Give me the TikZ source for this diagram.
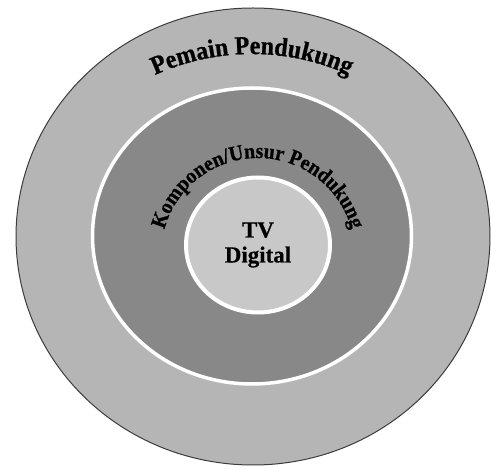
\documentclass[tikz,border=0pt]{standalone}
\usepackage{fontspec}
\setmainfont{Liberation Serif}
\newfontfamily\arcfont[FakeStretch=0.92, FakeBold=0.8]{Liberation Serif Bold}
\newfontfamily\midfont[FakeBold=0.5]{Liberation Serif Bold}
\usetikzlibrary{decorations.text}
\definecolor{outergray}{RGB}{181,181,181}
\definecolor{midgray}{RGB}{136,136,136}
\definecolor{innergray}{RGB}{200,200,200}
\definecolor{rimgray}{RGB}{60,60,60}
\tikzset{
  outerring/.style={fill=outergray, draw=rimgray, line width=1pt},
  midring/.style={fill=midgray, draw=white, line width=3.5pt},
  innerring/.style={fill=innergray, draw=white, line width=4pt},
  arctext/.style={decorate, decoration={text along path, text align=center, text={#1}}},
  centertext/.style={font=\midfont\fontsize{23}{25}\selectfont, align=center, inner sep=0pt}
}
\begin{document}
\begin{tikzpicture}[x=1pt,y=1pt]
\useasboundingbox (0,0) rectangle (491,469);
% outer
\path[outerring] (253,232.5) ellipse [x radius=237, y radius=228.5];
% middle
\path[midring] (252,233) ellipse [x radius=159.5, y radius=148];
% inner
\path[innerring] (258,224) ellipse [x radius=72, y radius=67.5];
% arc texts
\path[arctext={|\arcfont\fontsize{26}{26}\selectfont|Pemain Pendukung}]
  (252,181) ++(130:234) arc[start angle=130, end angle=50, radius=234];
\path[arctext={|\arcfont\fontsize{21.5}{21.5}\selectfont|Komponen/Unsur Pendukung}]
  (258,214) ++(178:97) arc[start angle=178, end angle=2, radius=97];
% centre label
\node[centertext] (tv) at (258,224) {TV\\Digital};
\end{tikzpicture}
\end{document}
